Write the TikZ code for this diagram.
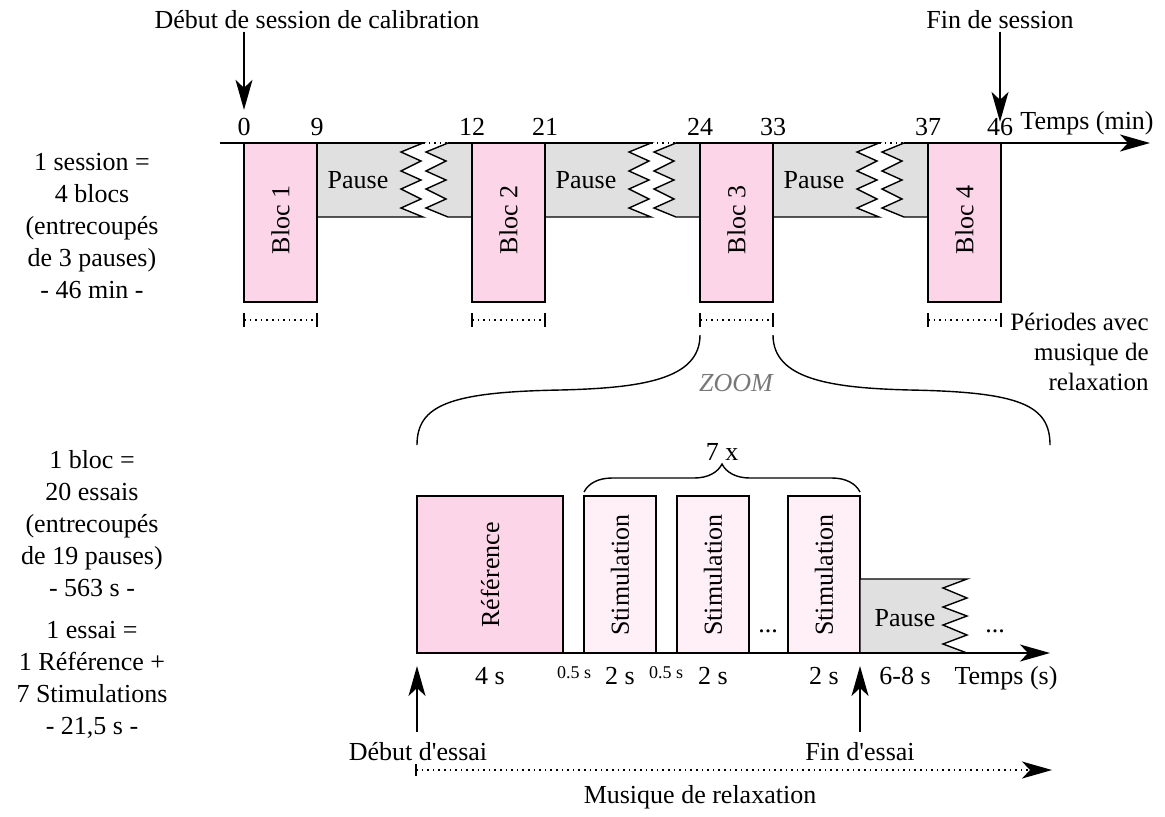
\documentclass[tikz,border=0pt]{standalone}
\usepackage{fontspec}
\setmainfont{Liberation Serif}
\usetikzlibrary{arrows.meta, decorations.pathreplacing}

\definecolor{blocpink}{RGB}{252,214,232}
\definecolor{stimpink}{RGB}{255,240,247}
\definecolor{pausegray}{RGB}{224,224,224}
\definecolor{zoomgray}{RGB}{120,120,120}

\tikzset{
  bloc/.style={draw, fill=blocpink, line width=0.7pt},
  stim/.style={draw, fill=stimpink, line width=0.7pt},
  pausebox/.style={draw, fill=pausegray, line width=0.7pt},
  axe/.style={line width=0.9pt, -{Stealth[length=15pt,width=8.5pt,inset=4pt]}},
  fleche/.style={line width=0.7pt, -{Stealth[length=15pt,width=8.5pt,inset=4pt]}},
  lbl/.style={font=\fontsize{13}{16}\selectfont, inner sep=1pt},
  petit/.style={font=\fontsize{9}{11}\selectfont, inner sep=1pt}
}

\begin{document}
\begin{tikzpicture}[x=0.5pt, y=-0.5pt]
    \useasboundingbox (0,0) rectangle (1165,816);

    % Session timeline
    \node[lbl] (debut) at (317,20) {Début de session de calibration};
    \node[lbl] (fin) at (1000,20) {Fin de session};
    \foreach \x/\t in {244/0,317/9,472/12,545/21,700/24,773/33,928/37,1000/46}
        \node[lbl] (t\t) at (\x,127) {\t};
    \node[lbl] (tmin) at (1087,123) {Temps (min)};
    \draw[fleche] (debut.south -| t0) -- ([yshift=3pt]t0.north);
    \draw[fleche] (fin.south) -- ([yshift=-3pt]t46.north);

    \node[lbl, align=center] (session) at (92,226) {1 session =\\4 blocs\\(entrecoupés\\de 3 pauses)\\- 46 min -};

    % Pauses (cut)
    \foreach \p in {317,545,773} {
        \draw[pausebox] (\p,143) -- (\p+106,143) -- (\p+84,152) -- (\p+104,161) -- (\p+84,171) -- (\p+104,180) -- (\p+84,189) -- (\p+104,199) -- (\p+84,208) -- (\p+106,217) -- (\p,217) -- cycle;
        \draw[pausebox] (\p+131,143) -- (\p+109,152) -- (\p+129,161) -- (\p+109,171) -- (\p+129,180) -- (\p+109,189) -- (\p+129,199) -- (\p+109,208) -- (\p+131,217) -- (\p+155,217) -- (\p+155,143) -- cycle;
        \node[lbl] (pause\p) at (\p+41,180) {Pause};
    }

    % Blocs
    \foreach \x/\n in {244/1,472/2,700/3,928/4} {
        \draw[bloc] (\x,143) rectangle +(73,159);
        \node[lbl, rotate=90] (bloc\n) at (\x+36.5,220) {Bloc \n};
        \draw[line width=1pt] (\x,313) -- (\x,327) (\x+73,313) -- (\x+73,327);
        \draw[dotted, line width=0.8pt] (\x,320) -- (\x+73,320);
    }

    % Axis with gaps
    \draw[line width=0.9pt] (220,143) -- (423,143) (448,143) -- (651,143) (676,143) -- (879,143);
    \draw[dotted, line width=0.8pt] (423,143) -- (448,143) (651,143) -- (676,143) (879,143) -- (904,143);
    \draw[axe] (904,143) -- (1150,143);

    \node[lbl, align=right, anchor=east, font=\fontsize{12.5}{15}\selectfont] (periodes) at (1151,352) {Périodes avec\\musique de\\relaxation};

    % Zoom
    \coordinate (z1) at (700,335);
    \coordinate (z2) at (773,335);
    \draw[line width=0.7pt] (z1) .. controls (700,380) and (640,388) .. (560,390) .. controls (450,392) and (417,405) .. (417,445);
    \draw[line width=0.7pt] (z2) .. controls (773,380) and (833,388) .. (910,390) .. controls (1020,392) and (1050,405) .. (1050,445);
    \node[font=\fontsize{13}{16}\selectfont\itshape, text=zoomgray] (zoom) at (736,383) {ZOOM};

    % Trial
    \node[lbl, align=center] (blocinfo) at (92,524) {1 bloc =\\20 essais\\(entrecoupés\\de 19 pauses)\\- 563 s -};
    \node[lbl, align=center] (essai) at (92,680) {1 essai =\\1 Référence +\\7 Stimulations\\- 21,5 s -};

    \draw[bloc] (417,496) rectangle (563,653);
    \node[lbl, rotate=90] (ref) at (490,575) {Référence};
    \foreach \x/\n in {584/1,677/2,788/3} {
        \draw[stim] (\x,496) rectangle +(72,157);
        \node[lbl, rotate=90] (stim\n) at (\x+36,575) {Stimulation};
    }
    \node[lbl] (dots1) at (768,631) {...};
    \draw[decorate, decoration={brace, amplitude=14pt}, line width=0.7pt] (584,492) -- (860,492);
    \node[lbl] (sept) at (722,452) {7 x};

    \draw[pausebox] (860,653) -- (860,579) -- (967,579) -- (943,588) -- (967,598) -- (943,607) -- (967,616) -- (943,625) -- (967,635) -- (943,644) -- (967,653) -- cycle;
    \node[lbl] (pauseb) at (905,618) {Pause};
    \node[lbl] (dots2) at (995,631) {...};

    \draw[axe] (416,653) -- (1050,653);

    \node[lbl] (d1) at (490,676) {4 s};
    \node[petit] (p1) at (574,673) {0.5 s};
    \node[lbl] (d2) at (620,676) {2 s};
    \node[petit] (p2) at (666,673) {0.5 s};
    \node[lbl] (d3) at (713,676) {2 s};
    \node[lbl] (d4) at (824,676) {2 s};
    \node[lbl] (d5) at (905,676) {6-8 s};
    \node[lbl] (tsec) at (1006,678) {Temps (s)};

    \node[lbl] (debutessai) at (418,752) {Début d\textquotesingle essai};
    \node[lbl] (finessai) at (860,752) {Fin d\textquotesingle essai};
    \coordinate (e0) at (417,666);
    \coordinate (e1) at (860,666);
    \draw[fleche] ([yshift=4pt]debutessai.north -| e0) -- (e0);
    \draw[fleche] ([yshift=4pt]finessai.north) -- (e1);

    % Music
    \coordinate (m0) at (416,770);
    \coordinate (m1) at (1052,770);
    \draw[line width=0.8pt] (416,764) -- (416,776);
    \draw[dotted, line width=0.8pt, -{Stealth[length=15pt,width=8.5pt,inset=4pt]}] (m0) -- (m1);
    \node[lbl] (musique) at (700,797) {Musique de relaxation};
\end{tikzpicture}
\end{document}
